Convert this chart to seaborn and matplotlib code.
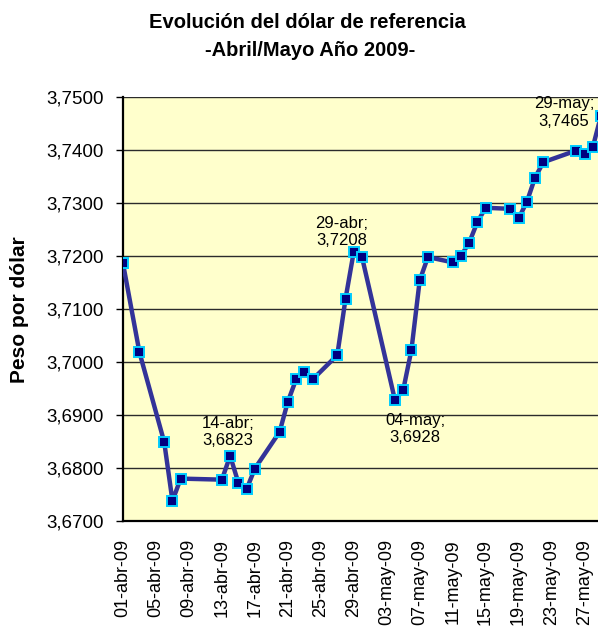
import matplotlib
matplotlib.use("Agg")
import matplotlib.pyplot as plt
import seaborn as sns
import pandas as pd
import numpy as np

# ---- data ----
dates = ["2009-04-01", "2009-04-03", "2009-04-06", "2009-04-07", "2009-04-08",
         "2009-04-13", "2009-04-14", "2009-04-15", "2009-04-16", "2009-04-17",
         "2009-04-20", "2009-04-21", "2009-04-22", "2009-04-23", "2009-04-24",
         "2009-04-27", "2009-04-28", "2009-04-29", "2009-04-30",
         "2009-05-04", "2009-05-05", "2009-05-06", "2009-05-07", "2009-05-08",
         "2009-05-11", "2009-05-12", "2009-05-13", "2009-05-14", "2009-05-15",
         "2009-05-18", "2009-05-19", "2009-05-20", "2009-05-21", "2009-05-22",
         "2009-05-26", "2009-05-27", "2009-05-28", "2009-05-29"]
values = [3.7186, 3.7018, 3.6849, 3.6738, 3.6780,
          3.6778, 3.6823, 3.6772, 3.6760, 3.6799,
          3.6868, 3.6925, 3.6967, 3.6981, 3.6967,
          3.7013, 3.7119, 3.7208, 3.7198,
          3.6928, 3.6947, 3.7023, 3.7154, 3.7198,
          3.7188, 3.7200, 3.7225, 3.7264, 3.7291,
          3.7289, 3.7271, 3.7302, 3.7348, 3.7377,
          3.7399, 3.7393, 3.7405, 3.7465]

tick_dates = ["2009-04-01", "2009-04-05", "2009-04-09", "2009-04-13", "2009-04-17",
              "2009-04-21", "2009-04-25", "2009-04-29", "2009-05-03", "2009-05-07",
              "2009-05-11", "2009-05-15", "2009-05-19", "2009-05-23", "2009-05-27"]
tick_labels = ["01-abr-09", "05-abr-09", "09-abr-09", "13-abr-09", "17-abr-09",
               "21-abr-09", "25-abr-09", "29-abr-09", "03-may-09", "07-may-09",
               "11-may-09", "15-may-09", "19-may-09", "23-may-09", "27-may-09"]

y_ticks = [3.67, 3.68, 3.69, 3.70, 3.71, 3.72, 3.73, 3.74, 3.75]
y_tick_labels = ["3,6700", "3,6800", "3,6900", "3,7000", "3,7100",
                 "3,7200", "3,7300", "3,7400", "3,7500"]

annot_dates = ["2009-04-14", "2009-04-29", "2009-05-04", "2009-05-29"]
annot_texts = ["14-abr;\n3,6823", "29-abr;\n3,7208", "04-may;\n3,6928", "29-may;\n3,7465"]
annot_values = [3.6823, 3.7208, 3.6928, 3.7465]
annot_offsets_px = [(-2, 24), (-12, 20), (20, -29), (-37, 3)]

df = pd.DataFrame({"fecha": pd.to_datetime(dates), "valor": values})

# ---- figure ----
W, H = 598, 626
sns.set_style("white")
plt.rcParams["font.family"] = ["Liberation Sans", "DejaVu Sans"]
plt.rcParams["text.color"] = "black"
plt.rcParams["xtick.color"] = "black"
plt.rcParams["ytick.color"] = "black"
plt.rcParams["axes.labelcolor"] = "black"
fig = plt.figure(figsize=(W / 100, H / 100), dpi=100)

ax = fig.add_axes([123 / W, 1 - 521 / H, 478 / W, (521 - 97) / H])
ax.set_facecolor("#FFFFCC")

for yv in y_ticks:
    ax.axhline(yv, color="#2b2b2b", lw=1.0, zorder=1)

sns.lineplot(data=df, x="fecha", y="valor", ax=ax, color="#333399", lw=3.2,
             marker="s", markersize=7, markerfacecolor="#000080",
             markeredgecolor="#00CCFF", markeredgewidth=1.4, zorder=3)

ax.set_xlim(pd.Timestamp("2009-04-01"), pd.Timestamp("2009-05-29"))
ax.set_ylim(3.67, 3.75)

ax.set_yticks(y_ticks)
ax.set_yticklabels(y_tick_labels, fontsize=13.5, color="black")
ax.set_xticks(pd.to_datetime(tick_dates))
ax.set_xticklabels(tick_labels, rotation=90, fontsize=13, va="top", ha="center", color="black")
ax.tick_params(axis="y", direction="out", length=5, width=1, color="black", pad=9, left=True)
ax.tick_params(axis="x", length=0, pad=13)
ax.set_xlabel("")
ax.set_ylabel("")

for s in ["top", "right"]:
    ax.spines[s].set_visible(False)
for s in ["left", "bottom"]:
    ax.spines[s].set_color("black")
    ax.spines[s].set_linewidth(1.6)

for d, t, v, (dx, dy) in zip(annot_dates, annot_texts, annot_values, annot_offsets_px):
    ax.annotate(t, xy=(pd.Timestamp(d), v), xytext=(dx, dy), textcoords="offset pixels",
                ha="center", va="center", fontsize=12, color="black",
                linespacing=1.2, zorder=5, annotation_clip=False)

fig.text(307 / W, 1 - 23 / H, "Evolución del dólar de referencia", ha="center", va="center",
         fontsize=14.5, fontweight="bold", color="black")
fig.text(310 / W, 1 - 50 / H, "-Abril/Mayo Año 2009-", ha="center", va="center",
         fontsize=14.5, fontweight="bold", color="black")
fig.text(20 / W, 1 - 310 / H, "Peso por dólar", rotation=90, ha="center", va="center",
         fontsize=15, fontweight="bold", color="black")

fig.savefig("out.png", dpi=100)
